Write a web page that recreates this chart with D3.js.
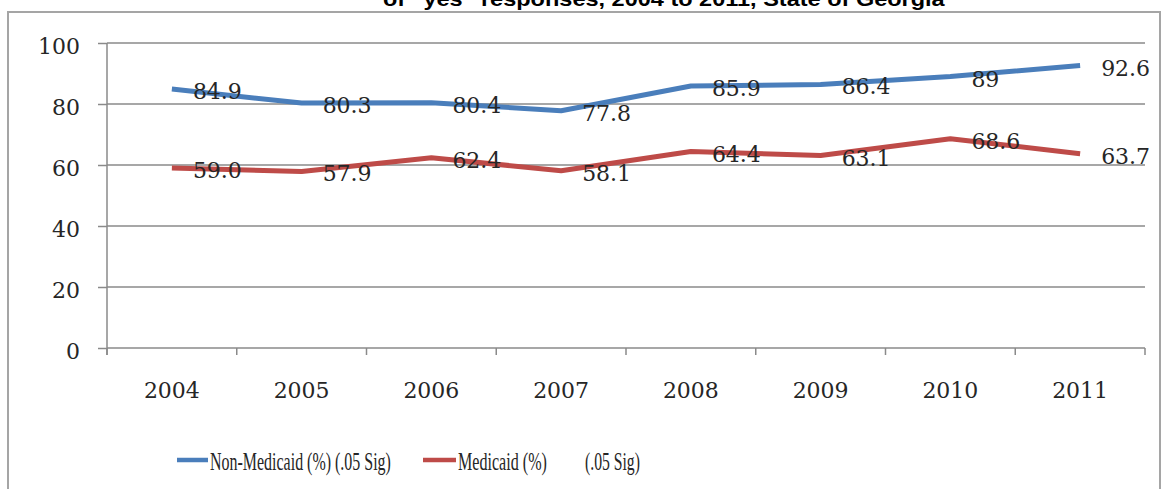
<!DOCTYPE html>
<html>
<head>
<meta charset="utf-8">
<script src="https://cdn.jsdelivr.net/npm/d3@7/dist/d3.min.js"></script>
<style>
  html, body { margin: 0; padding: 0; background: #ffffff; }
  svg { display: block; }
</style>
</head>
<body>
<svg id="chart" width="1165" height="489"></svg>
<script>
// Survey years and the share of "yes" responses per group
const years = ["2004", "2005", "2006", "2007", "2008", "2009", "2010", "2011"];
const nonMedicaid = [84.9, 80.3, 80.4, 77.8, 85.9, 86.4, 89, 92.6];
const medicaid = [59.0, 57.9, 62.4, 58.1, 64.4, 63.1, 68.6, 63.7];
const yTicks = [0, 20, 40, 60, 80, 100];
const titleText = "of \u201cyes\u201d responses, 2004 to 2011, State of Georgia";

const series = [
  { name: "Non-Medicaid (%) (.05 Sig)", values: nonMedicaid, color: "#4a7ebb", fmt: v => String(v) },
  { name: "Medicaid (%)", values: medicaid, color: "#be4b48", fmt: d3.format(".1f") }
];

const svg = d3.select("#chart");
const plot = { left: 107, right: 1145, top: 43, bottom: 348 };

const x = d3.scaleBand().domain(years).range([plot.left, plot.right]).padding(0);
const y = d3.scaleLinear().domain([0, 100]).range([plot.bottom, plot.top]);
const cx = d => x(d) + x.bandwidth() / 2;

// Outer chart frame
svg.append("rect")
  .attr("x", 8).attr("y", 12)
  .attr("width", 1152).attr("height", 500)
  .attr("fill", "#ffffff")
  .attr("stroke", "#a5a5a5").attr("stroke-width", 2);

// Squeeze a text horizontally so it spans the given width
function fitWidth(sel, left, baseline, width) {
  const w = sel.node().getComputedTextLength();
  sel.attr("transform", `translate(${left},${baseline}) scale(${width / w},1)`);
}

// Title (sits above the frame)
const title = svg.append("text")
  .style("font-family", "'Liberation Sans', Arial, sans-serif")
  .style("font-weight", "bold").style("font-size", "21px")
  .attr("fill", "#000")
  .text(titleText);
fitWidth(title, 383, 6, 562);

const axisColor = "#8a8a8a";
const numFont = "'DejaVu Serif', serif";

// Horizontal gridlines with short ticks to the left
const yAxis = d3.axisLeft(y).tickValues(yTicks).tickSize(9).tickFormat(d3.format("d"));
const gy = svg.append("g").attr("transform", `translate(${plot.left},0)`).call(yAxis);
gy.select(".domain").remove();
gy.selectAll(".tick line").attr("stroke", axisColor).attr("stroke-width", 1.5);
gy.selectAll(".tick text")
  .attr("x", -27).attr("dy", null).attr("y", 10.5)
  .style("font-family", numFont).style("font-size", "22px").attr("fill", "#262626");
svg.append("g").selectAll("line")
  .data(yTicks)
  .join("line")
  .attr("x1", plot.left).attr("x2", plot.right)
  .attr("y1", d => y(d)).attr("y2", d => y(d))
  .attr("stroke", axisColor).attr("stroke-width", 1.5);

// Vertical axis line
svg.append("line")
  .attr("x1", plot.left).attr("x2", plot.left)
  .attr("y1", plot.top).attr("y2", plot.bottom + 7)
  .attr("stroke", axisColor).attr("stroke-width", 1.5);

// Category tick marks at band boundaries
const bounds = years.map(d => x(d)).concat([plot.right]);
svg.append("g").selectAll("line")
  .data(bounds)
  .join("line")
  .attr("x1", d => d).attr("x2", d => d)
  .attr("y1", plot.bottom).attr("y2", plot.bottom + 7)
  .attr("stroke", axisColor).attr("stroke-width", 1.5);

// Year labels
svg.append("g").selectAll("text")
  .data(years)
  .join("text")
  .attr("x", d => cx(d)).attr("y", 398)
  .attr("text-anchor", "middle")
  .style("font-family", numFont).style("font-size", "22px").attr("fill", "#262626")
  .text(d => d);

// Series lines and value labels
const line = d3.line().x((v, i) => cx(years[i])).y(v => y(v));
series.forEach(s => {
  svg.append("path")
    .attr("d", line(s.values))
    .attr("fill", "none")
    .attr("stroke", s.color).attr("stroke-width", 5)
    .attr("stroke-linejoin", "round");
  svg.append("g").selectAll("text")
    .data(s.values)
    .join("text")
    .attr("x", (v, i) => cx(years[i]) + 21)
    .attr("y", v => y(v) + 10)
    .style("font-family", numFont).style("font-size", "22px").attr("fill", "#262626")
    .text(v => s.fmt(v));
});

// Legend
const legend = svg.append("g");
const legendFont = "'Liberation Serif', 'Times New Roman', serif";
const legendItems = [
  { color: series[0].color, x1: 177, x2: 208, tx: 210, tw: 181, label: series[0].name },
  { color: series[1].color, x1: 423, x2: 456, tx: 458, tw: 89, label: series[1].name },
  { color: null, tx: 585, tw: 55, label: "(.05 Sig)" }
];
legendItems.forEach(it => {
  if (it.color) {
    legend.append("line")
      .attr("x1", it.x1).attr("x2", it.x2)
      .attr("y1", 460).attr("y2", 460)
      .attr("stroke", it.color).attr("stroke-width", 4.5);
  }
  const t = legend.append("text")
    .style("font-family", legendFont).style("font-size", "25px").attr("fill", "#262626")
    .text(it.label);
  fitWidth(t, it.tx, 470, it.tw);
});
</script>
</body>
</html>
